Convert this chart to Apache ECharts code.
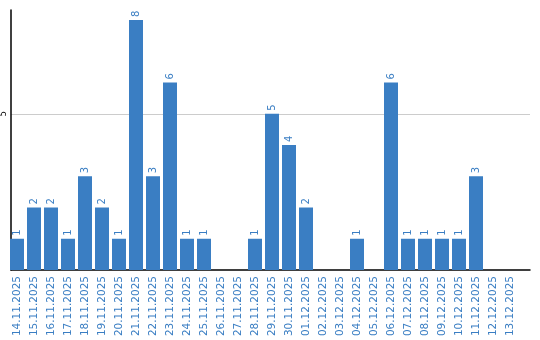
<!DOCTYPE html>
<html><head><meta charset="utf-8">
<script src="https://cdn.jsdelivr.net/npm/echarts@6/dist/echarts.min.js"></script>
<style>html,body{margin:0;padding:0;background:#fff}#c{width:540px;height:340px}</style>
</head><body><div id="c"></div>
<script>
var categories = ['14.11.2025','15.11.2025','16.11.2025','17.11.2025','18.11.2025','19.11.2025','20.11.2025','21.11.2025','22.11.2025','23.11.2025','24.11.2025','25.11.2025','26.11.2025','27.11.2025','28.11.2025','29.11.2025','30.11.2025','01.12.2025','02.12.2025','03.12.2025','04.12.2025','05.12.2025','06.12.2025','07.12.2025','08.12.2025','09.12.2025','10.12.2025','11.12.2025','12.12.2025','13.12.2025'];
var values = [1,2,2,1,3,2,1,8,3,6,1,1,0,0,1,5,4,2,0,0,1,0,6,1,1,1,1,3,0,0];
var yTicks = [5];
var blue = '#3a7ec3';
var yMax = 8.32;
var chart = echarts.init(document.getElementById('c'));
chart.setOption({
  animation: false,
  grid: [
    {left: 8.5, top: 10, width: 510, height: 260},
    {left: 10, top: 10, right: 10, height: 260}
  ],
  xAxis: [
    {type: 'category', gridIndex: 0, data: categories,
     axisLine: {show: false}, axisTick: {show: false},
     axisLabel: {rotate: 90, interval: 0, margin: 6, color: blue, fontSize: 10.5, fontFamily: 'DejaVu Sans'}},
    {type: 'value', gridIndex: 1, min: 0, max: 1,
     axisLine: {show: true, lineStyle: {color: '#000', width: 1.5}}, axisTick: {show: false},
     axisLabel: {show: false}, splitLine: {show: false}}
  ],
  yAxis: [
    {type: 'value', gridIndex: 0, min: 0, max: yMax, show: false, splitLine: {show: false}},
    {type: 'value', gridIndex: 1, min: 0, max: yMax, interval: 5,
     axisLine: {show: true, lineStyle: {color: '#000', width: 1.5}}, axisTick: {show: false},
     axisLabel: {rotate: 90, margin: 3, fontSize: 8, color: '#000', fontFamily: 'DejaVu Sans',
       formatter: function (v) { return yTicks.indexOf(v) >= 0 ? String(v) : ''; }},
     splitLine: {show: true, showMinLine: false, showMaxLine: false, lineStyle: {color: '#cccccc', width: 1}}}
  ],
  series: [{
    type: 'bar', xAxisIndex: 0, yAxisIndex: 0, data: values, barWidth: 14,
    itemStyle: {color: blue},
    label: {show: true, position: 'top', rotate: 90, align: 'left', verticalAlign: 'middle', distance: 3,
      color: blue, fontSize: 10, fontFamily: 'DejaVu Sans',
      formatter: function (p) { return p.value ? String(p.value) : ''; }}
  }]
});
</script></body></html>
